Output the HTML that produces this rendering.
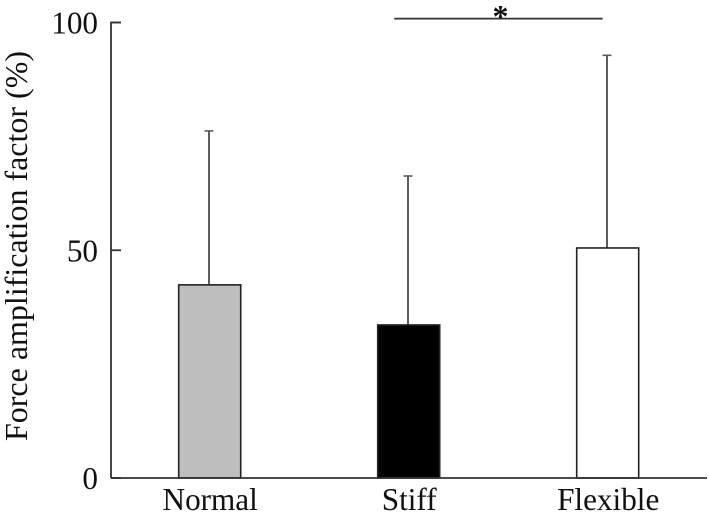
<!DOCTYPE html>
<html>
<head>
<meta charset="utf-8">
<style>
html,body{margin:0;padding:0;background:#fff;width:709px;height:520px;overflow:hidden}
svg{display:block}
text{font-family:"Liberation Serif",serif;fill:#111}
</style>
</head>
<body>
<svg id="chart" width="709" height="520" viewBox="0 0 709 520" xmlns="http://www.w3.org/2000/svg"></svg>
<script>
const categories = ['Normal', 'Stiff', 'Flexible'];
const meanValues = [42.4, 33.6, 50.5];
const errorValues = [33.8, 32.7, 42.3];
const barFills = ['#bebebe', '#000000', '#ffffff'];
const yTickValues = [0, 50, 100];
const yTickLabels = ['0', '50', '100'];
const significancePair = ['Stiff', 'Flexible'];
const significanceLevel = 100.85;
const significanceMark = '*';
const yAxisTitle = 'Force amplification factor (%)';

const NS = 'http://www.w3.org/2000/svg';
const svg = document.getElementById('chart');
const axisLeft = 111, axisRight = 707, axisBottom = 478, axisTop = 22.5;
const firstCenter = 209.7, centerStep = 199, barWidth = 62;

function yScale(v) { return axisBottom - (v / 100) * (axisBottom - axisTop); }
function xScale(i) { return firstCenter + i * centerStep; }
function make(tag, attrs, text) {
  const el = document.createElementNS(NS, tag);
  for (const k in attrs) el.setAttribute(k, attrs[k]);
  if (text !== undefined) el.textContent = text;
  svg.appendChild(el);
  return el;
}

categories.forEach(function (cat, i) {
  const cx = xScale(i);
  const sx = cx - 0.7;
  const top = yScale(meanValues[i] + errorValues[i]);
  const barTop = yScale(meanValues[i]);
  const stem = make('line', {x1: sx, x2: sx, y1: top, y2: barTop, stroke: '#5c5c5c', 'stroke-width': 2});
  
  
  const cap = make('line', {x1: sx - 4.5, x2: sx + 4.5, y1: top, y2: top, stroke: '#5c5c5c', 'stroke-width': 1.6});
  
  
  const bar = make('rect', {x: cx - barWidth / 2, y: barTop, width: barWidth, height: axisBottom - barTop, fill: barFills[i], stroke: '#222', 'stroke-width': 1.6});
  
  
  const label = make('text', {x: cx + 0.5, y: 510, 'text-anchor': 'middle', 'font-size': 31.2}, cat);
  
  
});

const yAxis = make('path', {d: 'M' + (axisLeft + 10) + ' ' + axisTop + 'H' + axisLeft + 'V' + axisBottom, fill: 'none', stroke: '#333', 'stroke-width': 1.8});


const xAxis = make('line', {x1: axisLeft, x2: axisRight, y1: axisBottom, y2: axisBottom, stroke: '#333', 'stroke-width': 1.8});



yTickValues.forEach(function (v, i) {
  const y = yScale(v);
  const tick = make('line', {x1: axisLeft, x2: axisLeft + 10, y1: y, y2: y, stroke: '#333', 'stroke-width': 1.8});
  
  
  const label = make('text', {x: 98, y: y + 11, 'text-anchor': 'end', 'font-size': 31.2}, yTickLabels[i]);
  
  
});

const title = make('text', {transform: 'translate(27 246) rotate(-90)', 'text-anchor': 'middle', 'font-size': 32}, yAxisTitle);



const sigA = xScale(categories.indexOf(significancePair[0])) - 14.5;
const sigB = xScale(categories.indexOf(significancePair[1])) - 5;
const sigY = yScale(significanceLevel);
const sigLine = make('line', {x1: sigA, x2: sigB, y1: sigY, y2: sigY, stroke: '#333', 'stroke-width': 1.8});


const sigStar = make('text', {x: (sigA + sigB) / 2 + 2, y: sigY + 8.4, 'text-anchor': 'middle', 'font-size': 32, 'font-weight': 'bold'}, significanceMark);


</script>
</body>
</html>
